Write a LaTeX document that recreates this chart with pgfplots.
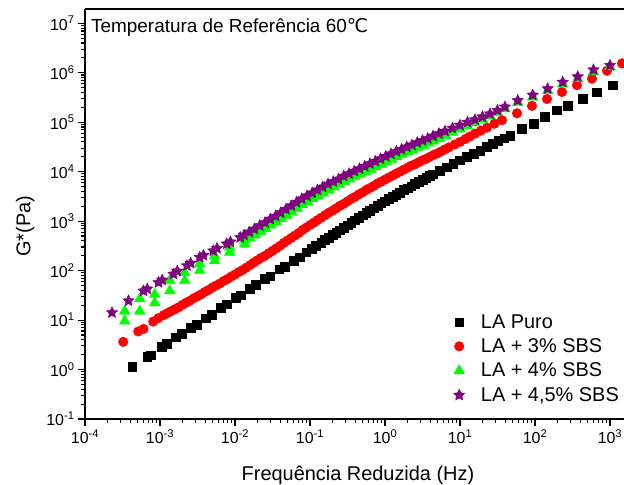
\documentclass[border=0pt]{standalone}
\usepackage{fontspec}
\setmainfont{Liberation Sans}
\newfontfamily\dejavu{DejaVu Sans}
\usepackage{pgfplots}
\pgfplotsset{compat=1.18}
\usepackage{pgfplotstable}

\definecolor{cgreen}{RGB}{0,255,0}
\definecolor{cpurple}{RGB}{128,0,128}

\pgfdeclareplotmark{fstar}{%
 \pgfpathmoveto{\pgfpointpolar{90}{\pgfplotmarksize}}%
 \pgfpathlineto{\pgfpointpolar{126}{0.48\pgfplotmarksize}}%
 \pgfpathlineto{\pgfpointpolar{162}{\pgfplotmarksize}}%
 \pgfpathlineto{\pgfpointpolar{198}{0.48\pgfplotmarksize}}%
 \pgfpathlineto{\pgfpointpolar{234}{\pgfplotmarksize}}%
 \pgfpathlineto{\pgfpointpolar{270}{0.48\pgfplotmarksize}}%
 \pgfpathlineto{\pgfpointpolar{306}{\pgfplotmarksize}}%
 \pgfpathlineto{\pgfpointpolar{342}{0.48\pgfplotmarksize}}%
 \pgfpathlineto{\pgfpointpolar{18}{\pgfplotmarksize}}%
 \pgfpathlineto{\pgfpointpolar{54}{0.48\pgfplotmarksize}}%
 \pgfpathclose
 \pgfusepathqfillstroke
}

% data: lx = log10(frequency [Hz]), ly = log10(G* [Pa])
\pgfplotstableread{
lx ly
-3.37 0.06
-3.17 0.26
-3.12 0.29
-2.98 0.46
-2.91 0.52
-2.79 0.65
-2.71 0.72
-2.59 0.84
-2.51 0.91
-2.39 1.04
-2.31 1.11
-2.19 1.25
-2.11 1.32
-1.99 1.45
-1.92 1.50
-1.80 1.63
-1.72 1.71
-1.60 1.84
-1.53 1.89
-1.41 2.03
-1.34 2.08
-1.22 2.20
-1.14 2.27
-1.05 2.37
-0.98 2.44
-0.92 2.50
-0.85 2.57
-0.80 2.62
-0.75 2.67
-0.70 2.72
-0.65 2.77
-0.60 2.82
-0.55 2.87
-0.50 2.92
-0.45 2.97
-0.40 3.02
-0.35 3.07
-0.30 3.12
-0.25 3.17
-0.20 3.21
-0.15 3.26
-0.10 3.31
-0.05 3.36
0.00 3.40
0.05 3.45
0.10 3.49
0.15 3.54
0.20 3.58
0.25 3.63
0.30 3.67
0.35 3.71
0.40 3.76
0.45 3.80
0.50 3.84
0.55 3.88
0.60 3.92
0.64 3.95
0.73 4.02
0.82 4.09
0.91 4.16
1.00 4.23
1.09 4.30
1.18 4.36
1.27 4.43
1.36 4.50
1.44 4.57
1.51 4.63
1.59 4.68
1.67 4.73
1.82 4.87
1.98 4.97
2.13 5.11
2.29 5.24
2.44 5.34
2.64 5.48
2.82 5.61
3.04 5.75
}\tblack

\pgfplotstableread{
lx ly
-3.49 0.56
-3.29 0.77
-3.22 0.82
-3.09 0.97
-3.02 1.04
-2.95 1.10
-2.90 1.14
-2.85 1.18
-2.80 1.22
-2.75 1.26
-2.70 1.31
-2.65 1.35
-2.60 1.39
-2.55 1.44
-2.50 1.48
-2.45 1.52
-2.40 1.57
-2.35 1.61
-2.30 1.66
-2.25 1.70
-2.20 1.74
-2.15 1.79
-2.10 1.83
-2.05 1.88
-2.00 1.92
-1.95 1.97
-1.90 2.01
-1.85 2.06
-1.80 2.11
-1.75 2.16
-1.70 2.21
-1.65 2.26
-1.60 2.30
-1.55 2.35
-1.50 2.40
-1.45 2.45
-1.40 2.50
-1.35 2.56
-1.30 2.61
-1.25 2.66
-1.20 2.71
-1.15 2.76
-1.10 2.82
-1.05 2.87
-1.00 2.92
-0.95 2.97
-0.90 3.02
-0.85 3.07
-0.80 3.12
-0.75 3.17
-0.70 3.21
-0.65 3.26
-0.60 3.31
-0.55 3.35
-0.50 3.40
-0.45 3.45
-0.40 3.49
-0.35 3.54
-0.30 3.58
-0.25 3.63
-0.20 3.67
-0.15 3.71
-0.10 3.76
-0.05 3.80
0.00 3.84
0.05 3.88
0.10 3.92
0.15 3.96
0.20 4.00
0.25 4.04
0.30 4.08
0.35 4.12
0.40 4.15
0.45 4.19
0.50 4.23
0.55 4.26
0.60 4.30
0.65 4.34
0.70 4.37
0.75 4.41
0.80 4.45
0.85 4.49
0.93 4.55
1.00 4.60
1.07 4.66
1.13 4.71
1.20 4.77
1.28 4.83
1.36 4.89
1.46 4.97
1.56 5.04
1.76 5.18
1.96 5.33
2.16 5.47
2.36 5.61
2.56 5.75
2.76 5.88
2.96 6.04
3.16 6.19
}\tred

\pgfplotstableread{
lx ly
-3.47 0.98
-3.47 1.18
-3.27 1.18
-3.27 1.43
-3.07 1.35
-3.07 1.52
-2.87 1.59
-2.87 1.80
-2.67 1.80
-2.67 1.96
-2.47 2.00
-2.47 2.14
-2.27 2.20
-2.27 2.30
-2.07 2.37
-2.07 2.47
-1.87 2.54
-1.87 2.62
-1.80 2.66
-1.73 2.72
-1.66 2.79
-1.59 2.85
-1.52 2.92
-1.45 2.98
-1.38 3.05
-1.31 3.12
-1.24 3.19
-1.17 3.26
-1.10 3.33
-1.03 3.39
-0.96 3.45
-0.89 3.51
-0.82 3.57
-0.75 3.63
-0.68 3.69
-0.61 3.74
-0.54 3.80
-0.47 3.85
-0.40 3.90
-0.33 3.95
-0.26 4.00
-0.19 4.05
-0.12 4.10
-0.05 4.15
0.02 4.20
0.09 4.25
0.16 4.30
0.23 4.35
0.30 4.40
0.37 4.44
0.44 4.49
0.51 4.53
0.58 4.58
0.65 4.62
0.73 4.67
0.81 4.73
0.90 4.79
1.00 4.86
1.10 4.93
1.20 4.99
1.30 5.06
1.40 5.13
1.50 5.20
1.60 5.27
1.77 5.40
1.97 5.51
2.17 5.64
2.37 5.77
2.57 5.88
2.78 6.02
3.00 6.12
3.20 6.22
}\tgreen

\pgfplotstableread{
lx ly
-3.64 1.15
-3.42 1.39
-3.22 1.59
-3.17 1.63
-3.02 1.76
-2.97 1.81
-2.82 1.93
-2.77 1.99
-2.64 2.10
-2.59 2.15
-2.47 2.27
-2.42 2.31
-2.29 2.40
-2.24 2.45
-2.11 2.54
-2.06 2.58
-1.93 2.67
-1.88 2.72
-1.81 2.78
-1.74 2.84
-1.67 2.91
-1.60 2.97
-1.53 3.04
-1.46 3.10
-1.39 3.17
-1.32 3.24
-1.25 3.31
-1.18 3.38
-1.11 3.45
-1.04 3.51
-0.97 3.57
-0.90 3.63
-0.83 3.69
-0.76 3.75
-0.69 3.80
-0.62 3.85
-0.55 3.91
-0.48 3.96
-0.41 4.01
-0.34 4.06
-0.27 4.11
-0.20 4.16
-0.13 4.21
-0.06 4.26
0.01 4.31
0.08 4.36
0.15 4.41
0.22 4.45
0.29 4.50
0.36 4.54
0.43 4.59
0.50 4.63
0.57 4.67
0.64 4.72
0.72 4.77
0.80 4.82
0.90 4.88
1.00 4.94
1.10 5.00
1.20 5.05
1.30 5.11
1.40 5.17
1.50 5.24
1.60 5.31
1.77 5.44
1.97 5.55
2.17 5.68
2.37 5.81
2.57 5.92
2.78 6.06
3.00 6.15
3.20 6.26
}\tpurple

\begin{document}
\begin{tikzpicture}
\begin{axis}[
  scale only axis, width=539bp, height=410bp,
  xmode=log, ymode=log,
  xmin=1e-4, xmax=1538, ymin=0.1, ymax=1.945e7,
  axis lines*=left,
  axis line style={line width=1.6bp},
  tick align=outside,
  major tick length=7bp, minor tick length=4bp,
  every tick/.style={black, line width=1.1bp},
  xtick={1e-4,1e-3,1e-2,1e-1,1,10,100,1000},
  xticklabels={10\textsuperscript{-4},10\textsuperscript{-3},10\textsuperscript{-2},10\textsuperscript{-1},10\textsuperscript{0},10\textsuperscript{1},10\textsuperscript{2},10\textsuperscript{3}},
  ytick={0.1,1,10,100,1000,1e4,1e5,1e6,1e7},
  yticklabels={10\textsuperscript{-1},10\textsuperscript{0},10\textsuperscript{1},10\textsuperscript{2},10\textsuperscript{3},10\textsuperscript{4},10\textsuperscript{5},10\textsuperscript{6},10\textsuperscript{7}},
  tick label style={font=\fontsize{16}{19}\selectfont},
  every axis x label/.style={at={(rel axis cs:0.5065,-0.1366)}, anchor=center, font=\fontsize{20}{24}\selectfont},
  every axis y label/.style={at={(rel axis cs:-0.1110,0.47)}, anchor=center, rotate=90, font=\fontsize{20}{24}\selectfont},
  xlabel={Frequência Reduzida (Hz)},
  ylabel={G*(Pa)},
  legend cell align=left,
  legend style={draw=none, fill=none, font=\fontsize{20}{24}\selectfont,
    at={(rel axis cs:1,0)}, anchor=south east, yshift=12bp, row sep=5bp,
    /tikz/every odd column/.append style={column sep=14bp}},
]
\addplot[only marks, mark=square*, mark size=4.3bp, black] table[x expr={10^(\thisrow{lx})}, y expr={10^(\thisrow{ly})}] {\tblack};
\addlegendentry{LA Puro}
\addplot[only marks, mark=*, mark size=4.8bp, red] table[x expr={10^(\thisrow{lx})}, y expr={10^(\thisrow{ly})}] {\tred};
\addlegendentry{LA + 3\% SBS}
\addplot[only marks, mark=triangle*, mark size=6.2bp, cgreen] table[x expr={10^(\thisrow{lx})}, y expr={10^(\thisrow{ly})}] {\tgreen};
\addlegendentry{LA + 4\% SBS}
\addplot[only marks, mark=fstar, mark size=6bp, cpurple] table[x expr={10^(\thisrow{lx})}, y expr={10^(\thisrow{ly})}] {\tpurple};
\addlegendentry{LA + 4,5\% SBS}
\node[anchor=base west, inner sep=0pt, font=\fontsize{19}{22}\selectfont] at (rel axis cs:0.0111,0.9439) {Temperatura de Referência 60{\dejavu ℃}};
\end{axis}
\draw[line width=1.6bp] (current axis.north west) -- (current axis.north east);
\pgfresetboundingbox
\path[use as bounding box] ([xshift=-85bp,yshift=-66bp]current axis.south west) rectangle ([yshift=9bp]current axis.north east);
\end{tikzpicture}
\end{document}
